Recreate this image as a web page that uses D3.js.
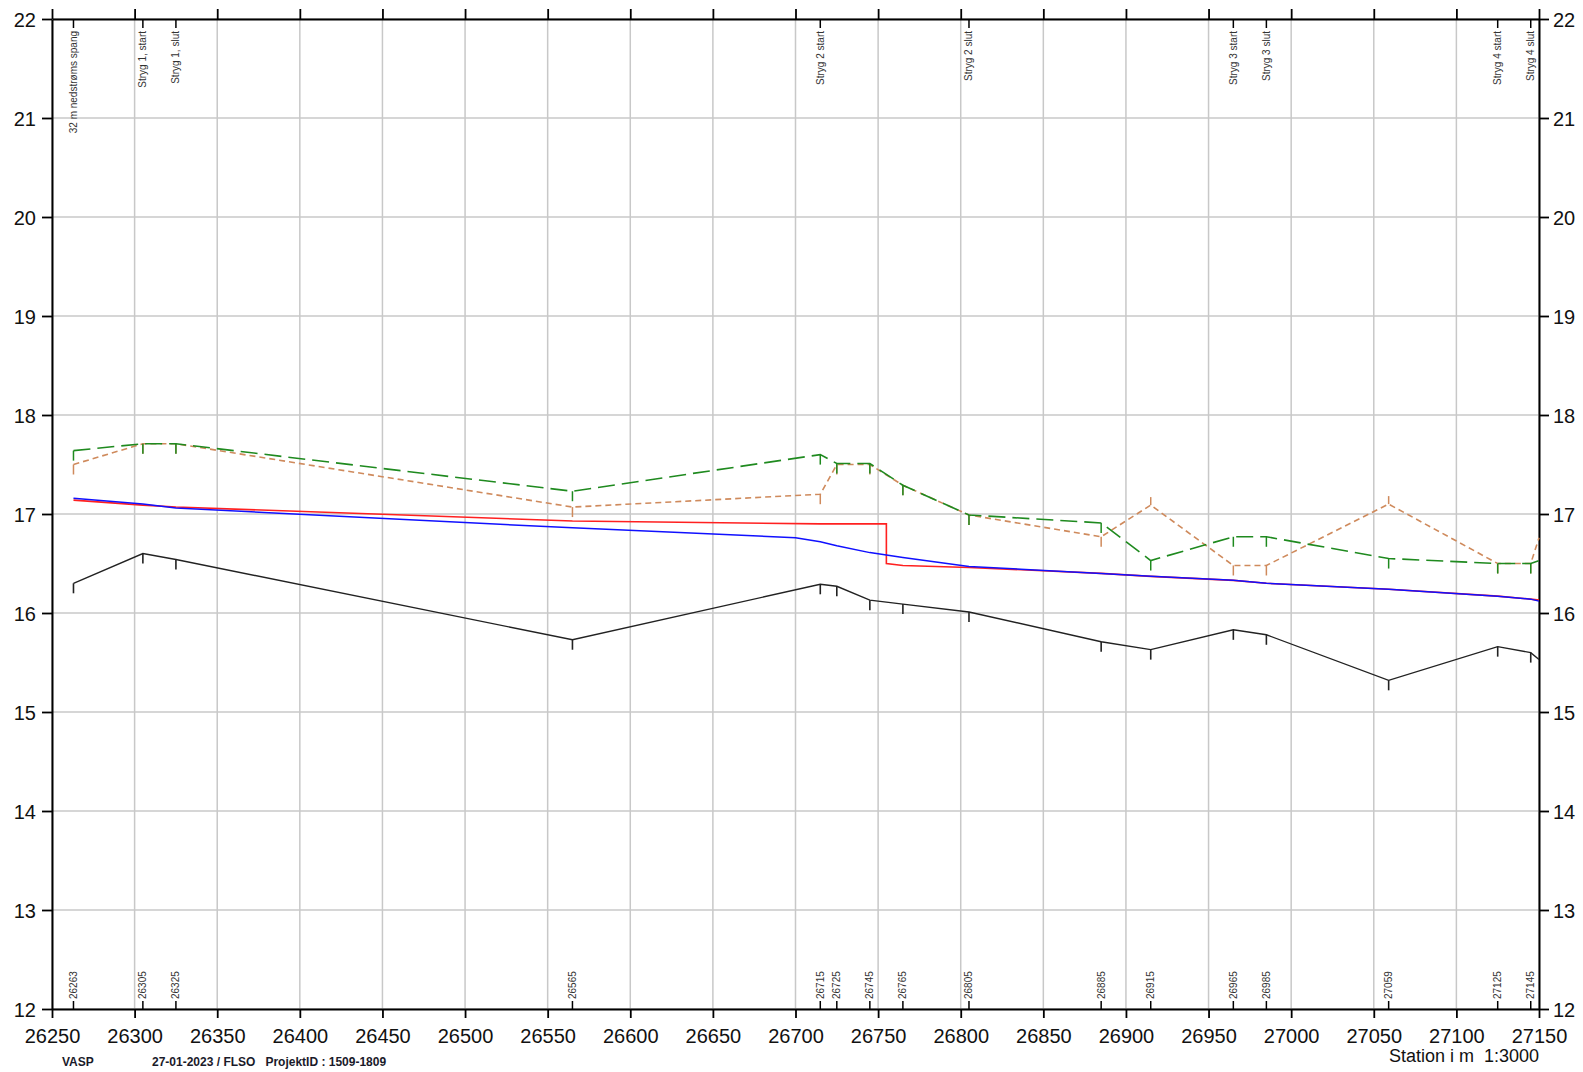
<!DOCTYPE html>
<html>
<head>
<meta charset="utf-8">
<script src="https://cdn.jsdelivr.net/npm/d3@7"></script>
<style>
html,body{margin:0;padding:0;background:#fff;}
svg{display:block;font-family:"Liberation Sans",Arial,sans-serif;}
</style>
</head>
<body>
<svg id="chart" width="1583" height="1072"></svg>
<script>
// ---------- data ----------
const xTicks = d3.range(26250, 27151, 50);
const yTicks = d3.range(12, 23, 1);

const stations = [26263,26305,26325,26565,26715,26725,26745,26765,26805,26885,26915,26965,26985,27059,27125,27145];
const bottomLabels = ["26263","26305","26325","26565","26715","26725","26745","26765","26805","26885","26915","26965","26985","27059","27125","27145"];

const topStations = [26263,26305,26325,26715,26805,26965,26985,27125,27145];
const topLabels = ["32 m nedstrøms spang","Stryg 1, start","Stryg 1, slut","Stryg 2 start","Stryg 2 slut","Stryg 3 start","Stryg 3 slut","Stryg 4 start","Stryg 4 slut"];

// bund (black)
const bund = [16.30,16.60,16.54,15.73,16.29,16.27,16.13,16.09,16.01,15.71,15.63,15.83,15.78,15.32,15.66,15.60];
// green dashed
const greenVals = [17.64,17.71,17.71,17.23,17.60,17.51,17.51,17.29,16.99,16.91,16.53,16.77,16.77,16.55,16.50,16.50];
// brown dashed
const brownVals = [17.50,17.71,17.71,17.07,17.20,17.50,17.50,17.29,16.99,16.77,17.09,16.48,16.48,17.10,16.50,16.50];
// values at the right edge (27150)
const endStation = 27150;
const bundEnd = 15.53, greenEnd = 16.53, brownEnd = 16.76;

// red water level
const redX = [26263,26305,26325,26565,26715,26755,26755,26765,26805,26885,26915,26965,26985,27059,27125,27145,27150];
const redY = [17.14,17.09,17.07,16.93,16.90,16.90,16.50,16.48,16.46,16.40,16.37,16.33,16.30,16.24,16.17,16.14,16.13];
// blue water level
const blueX = [26263,26305,26325,26565,26700,26715,26725,26745,26765,26805,26885,26915,26965,26985,27059,27125,27145,27150];
const blueY = [17.16,17.10,17.06,16.86,16.76,16.72,16.68,16.61,16.56,16.47,16.40,16.37,16.33,16.30,16.24,16.17,16.14,16.12];

// ---------- layout ----------
const L = 52, R = 1539, T = 19, B = 1009;
const svg = d3.select("#chart");
const x = d3.scaleLinear().domain([26250, 27150]).range([L, R]);
const y = d3.scaleLinear().domain([12, 22]).range([B, T]);

// grid
const grid = svg.append("g").attr("stroke", "#c8c8c8").attr("stroke-width", 1.5);
grid.selectAll("line.v").data(xTicks).join("line")
  .attr("x1", d => x(d)).attr("x2", d => x(d)).attr("y1", T).attr("y2", B);
grid.selectAll("line.h").data(yTicks).join("line")
  .attr("y1", d => y(d)).attr("y2", d => y(d)).attr("x1", L).attr("x2", R);

// axes
const fs = "20px";
const axB = svg.append("g").attr("transform", `translate(0,${B})`)
  .call(d3.axisBottom(x).tickValues(xTicks).tickFormat(d3.format("d")).tickSize(9).tickSizeOuter(0));
const axT = svg.append("g").attr("transform", `translate(0,${T})`)
  .call(d3.axisTop(x).tickValues(xTicks).tickFormat("").tickSize(10).tickSizeOuter(0));
const axL = svg.append("g").attr("transform", `translate(${L},0)`)
  .call(d3.axisLeft(y).tickValues(yTicks).tickFormat(d3.format("d")).tickSize(10).tickSizeOuter(0));
const axR = svg.append("g").attr("transform", `translate(${R},0)`)
  .call(d3.axisRight(y).tickValues(yTicks).tickFormat(d3.format("d")).tickSize(10).tickSizeOuter(0));
[axB, axT, axL, axR].forEach(a => {
  a.select(".domain").attr("stroke", "#000").attr("stroke-width", 2);
  a.selectAll(".tick line").attr("stroke", "#000").attr("stroke-width", 1.8);
  a.selectAll("text").attr("font-size", fs).attr("fill", "#111").attr("font-family", "Liberation Sans, Arial, sans-serif");
});
axB.selectAll("text").attr("dy", "0").attr("y", 34);
axL.selectAll("text").attr("x", -16).attr("dy", "0.36em");
axR.selectAll("text").attr("x", 14).attr("dy", "0.36em");

// station ticks and labels (bottom)
const bs = svg.append("g");
bs.selectAll("line").data(stations).join("line")
  .attr("x1", d => x(d)).attr("x2", d => x(d)).attr("y1", B).attr("y2", B - 8)
  .attr("stroke", "#000").attr("stroke-width", 1.5);
bs.selectAll("text").data(stations).join("text")
  .attr("transform", d => `translate(${x(d) + 3.5},${B - 10}) rotate(-90)`)
  .attr("text-anchor", "start").attr("font-size", "10px").attr("fill", "#333")
  .text((d, i) => bottomLabels[i]);

// station ticks and labels (top)
const ts = svg.append("g");
ts.selectAll("line").data(topStations).join("line")
  .attr("x1", d => x(d)).attr("x2", d => x(d)).attr("y1", T).attr("y2", T + 9)
  .attr("stroke", "#000").attr("stroke-width", 1.5);
ts.selectAll("text").data(topStations).join("text")
  .attr("transform", d => `translate(${x(d) + 3.5},${T + 12}) rotate(-90)`)
  .attr("text-anchor", "end").attr("font-size", "10px").attr("fill", "#333")
  .text((d, i) => topLabels[i]);

// lines
const plot = svg.append("g");
const line = d3.line().x(d => x(d[0])).y(d => y(d[1]));

function profile(vals, endVal) {
  const pts = stations.map((s, i) => [s, vals[i]]);
  pts.push([endStation, endVal]);
  return pts;
}

// ticks hanging from points
function tickMarks(vals, color, width) {
  plot.append("g").selectAll("line").data(stations).join("line")
    .attr("x1", d => x(d)).attr("x2", d => x(d))
    .attr("y1", (d, i) => y(vals[i]))
    .attr("y2", (d, i) => {
      const prev = i > 0 ? vals[i - 1] : -Infinity;
      const next = i < vals.length - 1 ? vals[i + 1] : -Infinity;
      const peak = vals[i] - prev > 0.15 && vals[i] - next > 0.15;
      return y(vals[i]) + (peak ? -8 : 10);
    })
    .attr("stroke", color).attr("stroke-width", width);
}

// black bund
plot.append("path").datum(profile(bund, bundEnd)).attr("d", line)
  .attr("fill", "none").attr("stroke", "#222").attr("stroke-width", 1.4);
tickMarks(bund, "#222", 1.6);

// brown
plot.append("path").datum(profile(brownVals, brownEnd)).attr("d", line)
  .attr("fill", "none").attr("stroke", "#cf8a5c").attr("stroke-width", 1.6)
  .attr("stroke-dasharray", "6,4");
tickMarks(brownVals, "#cf8a5c", 1.5);

// green
plot.append("path").datum(profile(greenVals, greenEnd)).attr("d", line)
  .attr("fill", "none").attr("stroke", "#1f8a1f").attr("stroke-width", 1.6)
  .attr("stroke-dasharray", "17,7");
tickMarks(greenVals, "#1f8a1f", 1.5);

// red
plot.append("path").datum(redX.map((s, i) => [s, redY[i]])).attr("d", line)
  .attr("fill", "none").attr("stroke", "#ff2020").attr("stroke-width", 1.6);
// blue
plot.append("path").datum(blueX.map((s, i) => [s, blueY[i]])).attr("d", line)
  .attr("fill", "none").attr("stroke", "#1010ff").attr("stroke-width", 1.5);

// footer
svg.append("text").attr("x", 62).attr("y", 1066).attr("font-size", "12px").attr("font-weight", "bold")
  .attr("fill", "#1a1a2a").text("VASP");
svg.append("text").attr("x", 152).attr("y", 1066).attr("font-size", "12px").attr("font-weight", "bold")
  .attr("fill", "#1a1a2a").style("white-space", "pre")
  .text("27-01-2023 / FLSO   ProjektID : 1509-1809");
svg.append("text").attr("x", R).attr("y", 1062).attr("text-anchor", "end").attr("font-size", "18px")
  .attr("fill", "#111").style("white-space", "pre").text("Station i m  1:3000");
</script>
</body>
</html>
